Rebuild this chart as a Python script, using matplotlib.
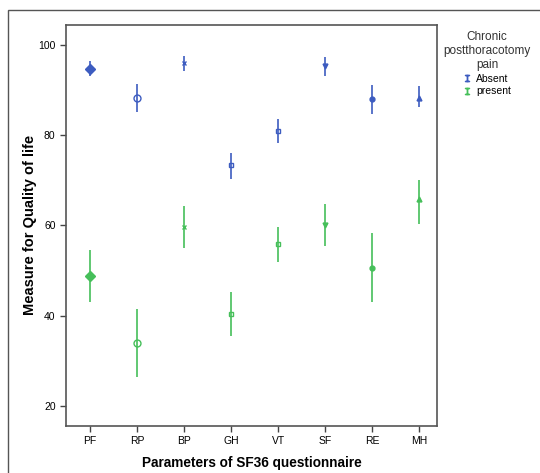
import numpy as np
import matplotlib.pyplot as plt
from matplotlib.patches import Rectangle
from matplotlib.lines import Line2D

plt.rcParams["font.family"] = ["Liberation Sans", "DejaVu Sans"]

# SF36 parameters
params = ["PF", "RP", "BP", "GH", "VT", "SF", "RE", "MH"]
markers = ["D", "o", "x", "s", "s", "v", "o", "^"]
filled = [True, False, False, False, False, True, True, True]

# Absent chronic pain: mean and CI bounds
absent_mean = [94.7, 88.3, 95.9, 73.3, 80.9, 95.2, 88.0, 88.3]
absent_lo = [93.0, 85.2, 94.1, 70.3, 78.2, 93.0, 84.7, 86.2]
absent_hi = [96.3, 91.4, 97.5, 76.0, 83.5, 97.2, 91.0, 90.8]

# Present chronic pain
present_mean = [48.8, 33.9, 59.7, 40.4, 55.8, 60.2, 50.6, 65.9]
present_lo = [43.1, 26.5, 54.9, 35.6, 52.0, 55.5, 43.0, 60.4]
present_hi = [54.6, 41.5, 64.3, 45.2, 59.6, 64.7, 58.4, 70.1]

blue = "#3d5cc0"
green = "#46bf5a"
sizes = [5, 5, 3.5, 3, 3, 3.5, 3.5, 3.5]

fig = plt.figure(figsize=(5.40, 4.73), dpi=100)
ax = fig.add_axes([0.1222, 0.0994, 0.687, 0.848])

# outer frame
fig.patches.append(Rectangle((8 / 540, -0.1), 1.2, 1 - 10 / 473 + 0.1,
                             transform=fig.transFigure, fill=False,
                             edgecolor="#555555", linewidth=1.0))

x = np.arange(len(params))
for means, lo, hi, col in [(absent_mean, absent_lo, absent_hi, blue),
                           (present_mean, present_lo, present_hi, green)]:
    ax.vlines(x, lo, hi, color=col, linewidth=1.2)
    for i in range(len(params)):
        ax.plot(x[i], means[i], marker=markers[i], color=col, markersize=sizes[i],
                markerfacecolor=col if filled[i] else "none",
                markeredgewidth=1.0, linestyle="none")

ax.set_xlim(-0.51, 7.38)
ax.set_ylim(15.6, 104.4)
ax.set_xticks(x)
ax.set_xticklabels(params, fontsize=7.5)
ax.set_yticks([20, 40, 60, 80, 100])
ax.tick_params(axis="y", labelsize=7.5, length=4, width=1, color="#444444")
ax.tick_params(axis="x", length=4, width=1, color="#444444")
for s in ax.spines.values():
    s.set_color("#555555")
    s.set_linewidth(1.2)

ax.set_xlabel("Parameters of SF36 questionnaire", fontsize=9.8, fontweight="bold", labelpad=7)
ax.set_ylabel("Measure for Quality of life", fontsize=10.5, fontweight="bold", labelpad=1)

handles = [Line2D([0], [0], marker="$\\mathtt{I}$", color=blue, linestyle="none", markersize=5),
           Line2D([0], [0], marker="$\\mathtt{I}$", color=green, linestyle="none", markersize=5)]
leg = fig.legend(handles, ["Absent", "present"], title="Chronic\npostthoracotomy\npain",
                 loc="upper center", bbox_to_anchor=(487 / 540, 1 - 22 / 473), frameon=False,
                 fontsize=7.5, title_fontsize=8.5, handlelength=0.8, handletextpad=0.4,
                 labelspacing=0.25)
leg.get_title().set_multialignment("center")
leg.get_title().set_color("#333333")

plt.savefig("out.png", dpi=100)
